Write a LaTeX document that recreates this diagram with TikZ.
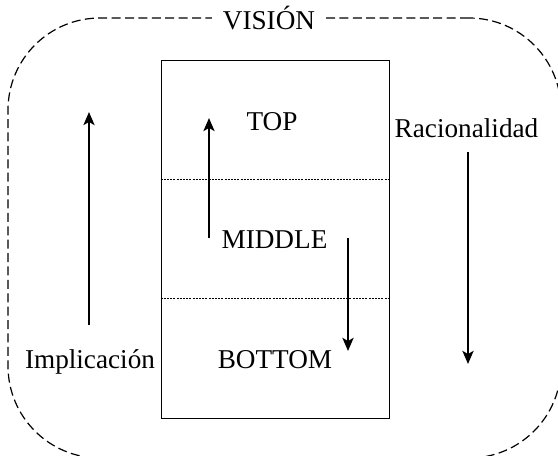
\documentclass[tikz,border=0pt]{standalone}
\usepackage{fontspec}
\setmainfont{Liberation Serif}
\usetikzlibrary{arrows.meta, positioning, calc}

\begin{document}
\begin{tikzpicture}[x=0.5pt, y=-0.5pt,
    flecha/.style={line width=1.3pt, -{Stealth[length=6.5pt,width=5.5pt,inset=1.5pt]}},
    texto/.style={anchor=base, inner sep=0pt, font=\fontsize{13.6}{16}\selectfont},
    divisor/.style={line width=0.4pt, dash pattern=on 1pt off 0.6pt}]
    \useasboundingbox (0,0) rectangle (558,456);
    % Marco exterior (vision)
    \node[draw, line width=0.6pt, dash pattern=on 4.5pt off 2.2pt, rounded corners=46pt,
          minimum width=276.5pt, minimum height=220pt, inner sep=0pt] (vision) at (284.5,238) {};
    \node[texto, fill=white, inner xsep=5.5pt, inner ysep=3pt] (titulo) at (269,29) {VISIÓN};
    % Pila central
    \node[draw, line width=0.5pt, minimum width=114pt, minimum height=179pt, inner sep=0pt] (pila) at (275,239) {};
    \draw[divisor] ($(pila.north west)!1/3!(pila.south west)$) -- ($(pila.north east)!1/3!(pila.south east)$);
    \draw[divisor] ($(pila.north west)!2/3!(pila.south west)$) -- ($(pila.north east)!2/3!(pila.south east)$);
    % Niveles
    \node[texto] (top) at (272,130) {TOP};
    \node[texto] (middle) at (274.5,248) {MIDDLE};
    \node[texto] (bottom) at (275,368) {BOTTOM};
    % Etiquetas laterales
    \node[texto] (impl) at (90,368) {Implicación};
    \node[texto] (racio) at (466.5,137) {Racionalidad};
    % Flechas
    \coordinate (impl0) at (89,325);
    \coordinate (impl1) at (89,112);
    \coordinate (sube0) at (209,238);
    \coordinate (sube1) at (209,118);
    \coordinate (baja0) at (348,238);
    \coordinate (baja1) at (348,351);
    \coordinate (racio0) at (468,152);
    \coordinate (racio1) at (468,364);
    \draw[flecha] (impl0) -- (impl1);
    \draw[flecha] (sube0) -- (sube1);
    \draw[flecha] (baja0) -- (baja1);
    \draw[flecha] (racio0) -- (racio1);
\end{tikzpicture}
\end{document}
